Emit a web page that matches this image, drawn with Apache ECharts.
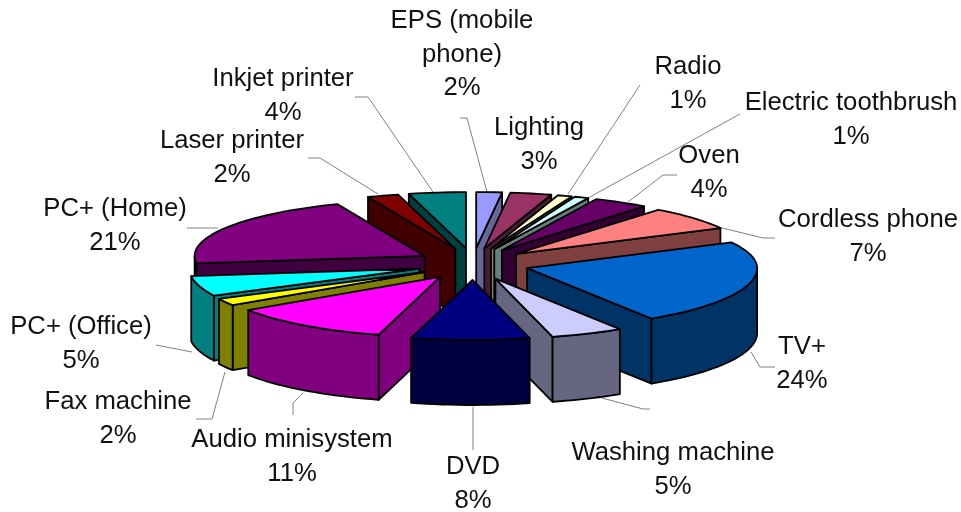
<!DOCTYPE html>
<html><head><meta charset="utf-8">
<style>html,body{margin:0;padding:0;background:#fff}#c{width:961px;height:512px}</style>
<script src="https://cdn.jsdelivr.net/npm/echarts@6/dist/echarts.min.js"></script>
</head><body><div id="c"></div>
<script>
const categories = ['EPS (mobile\nphone)','Lighting','Radio','Electric toothbrush','Oven','Cordless phone','TV+','Washing machine','DVD','Audio minisystem','Fax machine','PC+ (Office)','PC+ (Home)','Laser printer','Inkjet printer'];
const shares = [1.8,2.9,1.0,1.0,3.9,6.8,23.5,5.1,8.3,11.4,1.9,5.4,20.8,2.2,4.0];
const topColors = ['#9999ff','#993366','#ffffcc','#ccffff','#660066','#ff8080','#0066cc','#ccccff','#000080','#ff00ff','#ffff00','#00ffff','#800080','#800000','#008080'];
const sideColors = ['#666699','#4d1a33','#808066','#668080','#330033','#804040','#003366','#666680','#000040','#800080','#808000','#008080','#400040','#400000','#004040'];

// projection of the tilted pie
const C = {x:473, y:264}, RX = 230, RY_BACK = 56, RY_FRONT = 60, EX = 56, EY = 16, DEPTH = 65;
// label anchors and leader lines (one per category)
const labelPos = [[462,21],[539,128],[688,67],[851,103],[709,156],[868,220],[802,347],[673,453],[473,467],[292,440],[118,402],[81,327],[115,209],[232,141],[283,79]];
const leaders = [
  [[460,118],[467,118],[487,192]], null,
  [[568,194],[640,85]], [[588,198],[740,114]],
  [[628,202],[663,175],[677,175]], [[710,225],[763,238],[775,238]],
  [[751,352],[760,367],[775,367]], [[602,398],[643,409],[650,409]],
  [[473,407],[473,450]], [[303,393],[293,403],[293,415]],
  [[225,372],[212,419],[196,419]], [[192,352],[156,345]],
  [[218,228],[187,228]], [[378,194],[320,158],[308,158]], [[433,192],[368,97],[355,97]]
];

const total = shares.reduce((a,b)=>a+b,0);
const rad = d => d*Math.PI/180;
let acc = 0;
const slices = shares.map(v=>{ const a = acc/total*360; acc += v; const b = acc/total*360; return {a,b,m:(a+b)/2}; });
const rank = slices.map((s,i)=>i).sort((p,q)=>Math.cos(rad(slices[q].m))-Math.cos(rad(slices[p].m)));

function renderSlice(params){
  const i = params.dataIndex, s = slices[i];
  const ax = C.x + EX*Math.sin(rad(s.m)), ay = C.y - EY*Math.cos(rad(s.m));
  const P = t => { const c = Math.cos(rad(t)); return [ax + RX*Math.sin(rad(t)), ay - (c>0?RY_BACK:RY_FRONT)*c]; };
  const down = p => [p[0], p[1]+DEPTH];
  const arc = (a,b)=>{ const o=[]; const n=Math.max(2,Math.ceil((b-a)/2)); for(let k=0;k<=n;k++) o.push(P(a+(b-a)*k/n)); return o; };
  const z = rank.indexOf(i)*4 + 1;
  const style = fill => ({fill, stroke:'#000', lineWidth:1.8, lineJoin:'round'});
  const kids = [];
  const face = t => kids.push({type:'polygon', z2:z, shape:{points:[[ax,ay],P(t),down(P(t)),[ax,ay+DEPTH]]}, style:style(sideColors[i])});
  if (Math.sin(rad(s.a)) < 0) face(s.a);
  if (Math.sin(rad(s.b)) > 0) face(s.b);
  const wa = Math.max(s.a,90), wb = Math.min(s.b,270);
  if (wb > wa){
    const r = arc(wa,wb);
    kids.push({type:'polygon', z2:z+1, shape:{points:r.concat(r.map(down).reverse())}, style:style(sideColors[i])});
  }
  kids.push({type:'polygon', z2:z+2, shape:{points:[[ax,ay]].concat(arc(s.a,s.b))}, style:style(topColors[i])});
  return {type:'group', children:kids};
}

const graphics = [];
categories.forEach((name,i)=>{
  if (leaders[i]) graphics.push({type:'polyline', z:1, silent:true, shape:{points:leaders[i]}, style:{fill:null, stroke:'#808080', lineWidth:1}});
  const lines = (name+'\n'+Math.round(shares[i])+'%').split('\n');
  lines.forEach((t,k)=>graphics.push({type:'text', z:10, silent:true, x:labelPos[i][0], y:labelPos[i][1]+k*33.5,
    style:{text:t, fill:'#111', font:'25.7px "Liberation Sans", Arial, sans-serif', align:'center', verticalAlign:'middle'}}));
});

const chart = echarts.init(document.getElementById('c'), null, {renderer:'canvas'});
chart.setOption({
  animation:false,
  backgroundColor:'#fff',
  graphic:graphics,
  series:[{type:'custom', coordinateSystem:'none', silent:true, z:5,
    renderItem:renderSlice,
    data:categories.map((n,i)=>({name:n,value:shares[i]}))}]
});
</script></body></html>
